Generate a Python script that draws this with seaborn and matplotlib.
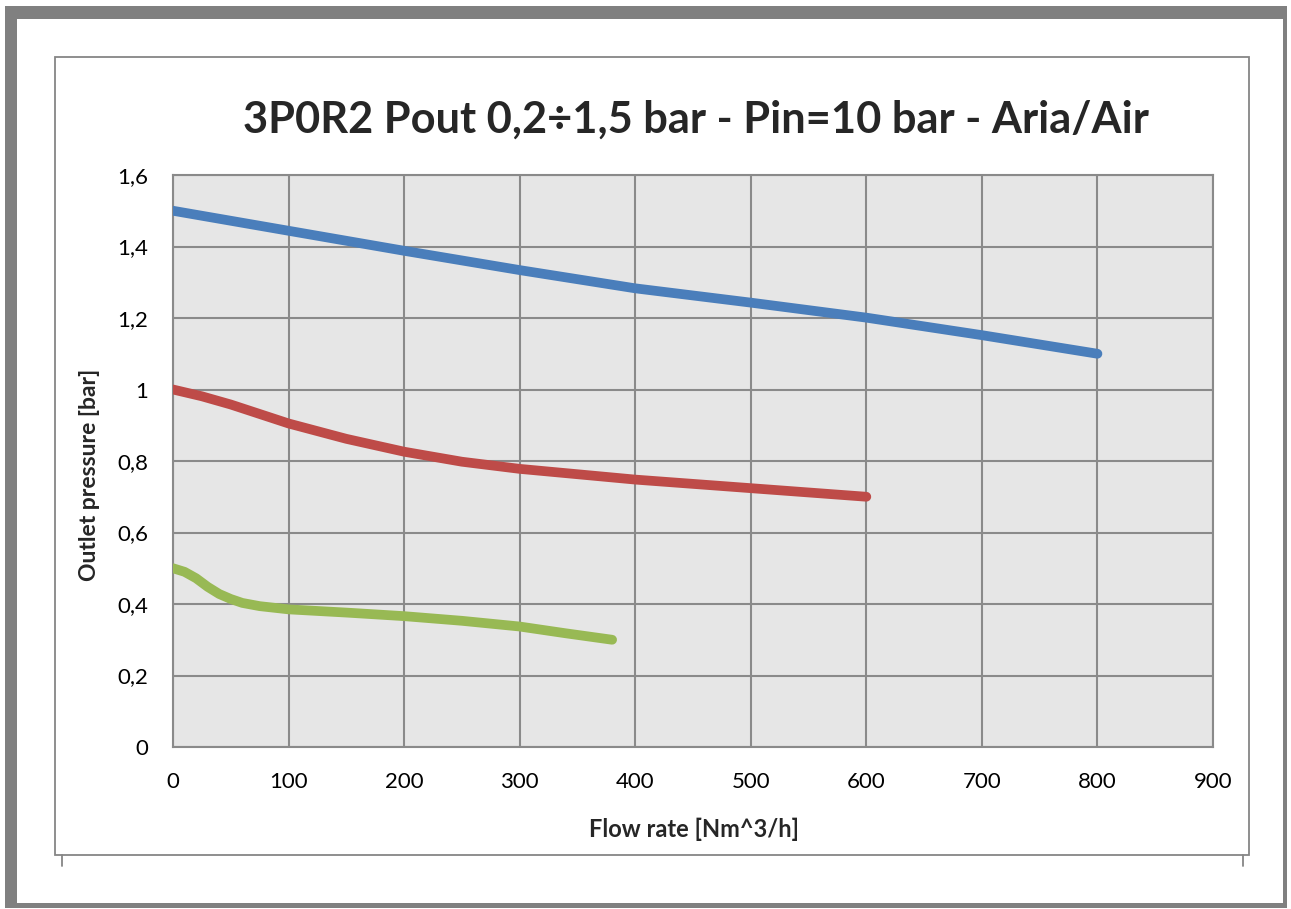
import pandas as pd
import seaborn as sns
import matplotlib.pyplot as plt
from matplotlib.patches import Rectangle
from matplotlib.lines import Line2D

# values
flow_blue = [0, 100, 200, 300, 400, 500, 600, 700, 800]
pout_blue = [1.50, 1.444, 1.388, 1.334, 1.283, 1.243, 1.201, 1.152, 1.10]

flow_red = [0, 25, 50, 100, 150, 200, 250, 300, 400, 500, 600]
pout_red = [1.00, 0.981, 0.958, 0.905, 0.862, 0.826, 0.798, 0.778, 0.748, 0.724, 0.70]

flow_green = [0, 10, 20, 30, 40, 50, 60, 75, 100, 150, 200, 250, 300, 340, 380]
pout_green = [0.50, 0.490, 0.472, 0.448, 0.428, 0.414, 0.403, 0.394, 0.385, 0.376, 0.366,
              0.353, 0.337, 0.318, 0.30]

x_ticks = [0, 100, 200, 300, 400, 500, 600, 700, 800, 900]
y_ticks = [0, 0.2, 0.4, 0.6, 0.8, 1.0, 1.2, 1.4, 1.6]
y_tick_labels = ["0", "0,2", "0,4", "0,6", "0,8", "1", "1,2", "1,4", "1,6"]

title = "3P0R2 Pout 0,2÷1,5 bar - Pin=10 bar - Aria/Air"
x_label = "Flow rate [Nm^3/h]"
y_label = "Outlet pressure [bar]"

df = pd.concat([
    pd.DataFrame({"flow": flow_blue, "pout": pout_blue, "series": "high"}),
    pd.DataFrame({"flow": flow_red, "pout": pout_red, "series": "mid"}),
    pd.DataFrame({"flow": flow_green, "pout": pout_green, "series": "low"}),
])
palette = {"high": "#4a7ebb", "mid": "#be4b48", "low": "#98b954"}

sns.set_theme(style="white")
plt.rcParams["font.family"] = ["Lato", "DejaVu Sans"]

W, H = 1291, 909
fig = plt.figure(figsize=(W / 100, H / 100), dpi=100)


def px(x, y):
    return x / W, 1 - y / H


# outer gray frame and inner chart border
x0, y0 = px(5, 908)
x1, y1 = px(1287, 6)
fig.patches.append(Rectangle((x0, y0), x1 - x0, y1 - y0, transform=fig.transFigure,
                             facecolor="#808080", edgecolor="none", zorder=-3))
x0, y0 = px(17, 903)
x1, y1 = px(1283, 19)
fig.patches.append(Rectangle((x0, y0), x1 - x0, y1 - y0, transform=fig.transFigure,
                             facecolor="white", edgecolor="none", zorder=-2))
x0, y0 = px(55, 855)
x1, y1 = px(1249, 57)
fig.patches.append(Rectangle((x0, y0), x1 - x0, y1 - y0, transform=fig.transFigure,
                             facecolor="white", edgecolor="#868686", linewidth=1.3, zorder=-1))
for xp in (62, 1243):
    a = px(xp, 855)
    b = px(xp, 866)
    fig.lines.append(Line2D([a[0], b[0]], [a[1], b[1]], transform=fig.transFigure,
                            color="#868686", linewidth=1.3))

# plot area
left, top = px(173, 175)
right, bottom = px(1213, 747)
ax = fig.add_axes([left, bottom, right - left, top - bottom])
ax.set_facecolor("#e6e6e6")

sns.lineplot(data=df, x="flow", y="pout", hue="series", palette=palette, sort=False,
             linewidth=7, legend=False, ax=ax, solid_capstyle="round",
             solid_joinstyle="round", zorder=3)

ax.set_xlim(0, 900)
ax.set_ylim(0, 1.6)
ax.set_xticks(x_ticks)
ax.set_yticks(y_ticks)
ax.set_yticklabels(y_tick_labels)
ax.grid(True, color="#8a8a8a", linewidth=1.5)
ax.set_axisbelow(True)
for s in ax.spines.values():
    s.set_color("#8a8a8a")
    s.set_linewidth(1.5)
ax.tick_params(axis="both", length=0, labelsize=16, colors="black")
ax.tick_params(axis="y", pad=18)
ax.tick_params(axis="x", pad=18)

ax.set_xlabel(x_label, fontsize=17, fontweight="bold", va="center")
ax.set_ylabel(y_label, fontsize=16.5, fontweight="bold", va="center")
ax.xaxis.set_label_coords((694 - 173) / 1040, (747 - 829) / 572)
ax.yaxis.set_label_coords((90 - 173) / 1040, (747 - 475) / 572)

tx, ty = px(696, 120)
t = fig.text(tx, ty, title, ha="center", va="center", fontsize=30, fontweight="bold")
# fit title width to the reference (about 903 px wide)
fig.canvas.draw()
w = t.get_window_extent().width
t.set_fontsize(30 * 903 / w)

fig.savefig("out.png", dpi=100)
